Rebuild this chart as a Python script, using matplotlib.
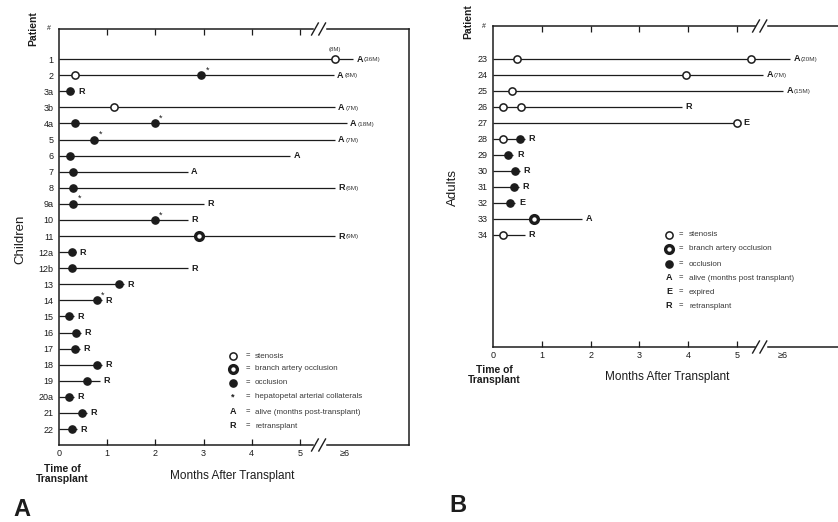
import matplotlib
matplotlib.use('Agg')
import matplotlib.pyplot as plt
from matplotlib.transforms import blended_transform_factory
from matplotlib.lines import Line2D

plt.rcParams['font.family'] = ['Liberation Sans', 'DejaVu Sans']

# ---------------- data ----------------
child_ids = ['1', '2', '3a', '3b', '4a', '5', '6', '7', '8', '9a', '10', '11',
             '12a', '12b', '13', '14', '15', '16', '17', '18', '19', '20a', '21', '22']
child_end = [6.10, 5.70, 0.32, 5.72, 5.97, 5.72, 4.79, 2.67, 5.72, 3.00, 2.67, 5.72,
             0.36, 2.67, 1.35, 0.90, 0.31, 0.45, 0.43, 0.90, 0.85, 0.31, 0.58, 0.37]
child_outcome = ['A', 'A', 'R', 'A', 'A', 'A', 'A', 'A', 'R', 'R', 'R', 'R',
                 'R', 'R', 'R', 'R', 'R', 'R', 'R', 'R', 'R', 'R', 'R', 'R']
child_months = ['(36M)', '(8M)', '', '(7M)', '(18M)', '(7M)', '', '', '(6M)', '', '', '(9M)',
                '', '', '', '', '', '', '', '', '', '', '', '']
child_ev_row = [0, 1, 1, 2, 3, 4, 4, 5, 6, 7, 8, 9, 10, 11, 12, 13, 14, 15, 16,
                17, 18, 19, 20, 21, 22, 23]
child_ev_x = [5.72, 0.33, 2.95, 0.23, 1.14, 0.33, 1.99, 0.73, 0.23, 0.30, 0.30, 0.30,
              1.99, 2.90, 0.27, 0.27, 1.24, 0.79, 0.21, 0.35, 0.33, 0.79, 0.58, 0.21,
              0.48, 0.27]
child_ev_kind = ['st', 'st', 'oc', 'oc', 'st', 'oc', 'oc', 'oc', 'oc', 'oc', 'oc', 'oc',
                 'oc', 'br', 'oc', 'oc', 'oc', 'oc', 'oc', 'oc', 'oc', 'oc', 'oc', 'oc',
                 'oc', 'oc']
child_ev_star = [0, 0, 1, 0, 0, 0, 1, 1, 0, 0, 0, 1,
                 1, 0, 0, 0, 0, 1, 0, 0, 0, 0, 0, 0, 0, 0]
child_notes = ['(8M)']
child_note_row = [0]
child_note_x = [5.72]

adult_ids = ['23', '24', '25', '26', '27', '28', '29', '30', '31', '32', '33', '34']
adult_end = [6.09, 5.53, 5.94, 3.87, 5.06, 0.66, 0.42, 0.56, 0.54, 0.46, 1.82, 0.66]
adult_outcome = ['A', 'A', 'A', 'R', 'E', 'R', 'R', 'R', 'R', 'E', 'A', 'R']
adult_months = ['(20M)', '(7M)', '(15M)', '', '', '', '', '', '', '', '', '']
adult_ev_row = [0, 0, 1, 2, 3, 3, 4, 5, 5, 6, 7, 8, 9, 10, 11]
adult_ev_x = [0.49, 5.29, 3.95, 0.39, 0.20, 0.57, 5.00, 0.20, 0.55, 0.31, 0.45, 0.43,
              0.35, 0.84, 0.20]
adult_ev_kind = ['st', 'st', 'st', 'st', 'st', 'st', 'st', 'st', 'oc', 'oc', 'oc', 'oc',
                 'oc', 'br', 'st']
adult_ev_star = [0] * 15

x_tick_vals = [0, 1, 2, 3, 4, 5]
x_tick_labels = ['0', '1', '2', '3', '4', '5']
six_label = '\u22656'

legend_A = ['stenosis', 'branch artery occlusion', 'occlusion',
            'hepatopetal arterial collaterals', 'alive (months post-transplant)',
            'retransplant']
legend_A_sym = ['st', 'br', 'oc', '*', 'A', 'R']
legend_B = ['stenosis', 'branch artery occlusion', 'occlusion',
            'alive (months post transplant)', 'expired', 'retransplant']
legend_B_sym = ['st', 'br', 'oc', 'A', 'E', 'R']

# ---------------- style ----------------
W, H = 838, 522
INK = '#1c1c1c'
GREY = '#3a3a3a'
fig = plt.figure(figsize=(W / 100, H / 100), dpi=100)
fig.patch.set_facecolor('white')


def box(l, t, r, b):
    return [l / W, 1 - b / H, (r - l) / W, (b - t) / H]


MSTYLE = {
    'st': dict(marker='o', mfc='white', mec=INK, mew=1.1, ms=5.2),
    'oc': dict(marker='o', mfc=INK, mec=INK, mew=1.0, ms=5.2),
    'br': dict(marker='o', mfc='white', mec=INK, mew=2.4, ms=5.6),
}


def panel(ax, ids, ends, outcome, months, ev_row, ev_x, ev_kind, ev_star,
          xmax, top_pad, bot_pad, brk, six_x):
    n = len(ids)
    rows = list(range(n))
    ax.hlines(rows, 0, ends, color=INK, lw=0.9, zorder=2)
    for r, x, k, s in zip(ev_row, ev_x, ev_kind, ev_star):
        ax.plot([x], [r], ls='none', zorder=3, **MSTYLE[k])
        if s:
            ax.annotate('*', xy=(x, r), xytext=(3.0, 0.5), textcoords='offset points',
                        fontsize=6.5, color=INK, ha='left', va='bottom')
    for r, e, o, m in zip(rows, ends, outcome, months):
        t = ax.annotate(o, xy=(e, r), xytext=(2.5, 0), textcoords='offset points',
                        fontsize=6.5, fontweight='bold', color=INK, ha='left',
                        va='center')
        if m:
            ax.annotate(m, xy=(1.0, 0.5), xycoords=t, xytext=(0.5, -0.5),
                        textcoords='offset points', fontsize=4.6, color=GREY,
                        ha='left', va='center')
    ax.set_xlim(0, xmax)
    ax.set_ylim(n - 1 + bot_pad, -top_pad)
    ax.set_yticks(rows)
    ax.set_yticklabels(ids, fontsize=6.5, color=INK)
    ax.tick_params(axis='y', length=0, pad=4)
    ticks = x_tick_vals + [six_x]
    ax.set_xticks(ticks)
    ax.set_xticklabels(x_tick_labels + [six_label], fontsize=6.5, color=INK)
    ax.tick_params(axis='x', direction='in', length=4, width=0.9, top=True,
                   bottom=True, pad=3, color=INK)
    mt = ax.xaxis.get_major_ticks()
    for i in (0, len(mt) - 1):
        mt[i].tick1line.set_visible(False)
        mt[i].tick2line.set_visible(False)
    for s in ('top', 'bottom'):
        ax.spines[s].set_visible(False)
    for s in ('left', 'right'):
        ax.spines[s].set_color(INK)
        ax.spines[s].set_linewidth(1.1)
    # broken top / bottom spines
    tr = blended_transform_factory(ax.transData, ax.transAxes)
    b0, b1 = brk
    for y in (0.0, 1.0):
        ax.add_line(Line2D([0, b0], [y, y], color=INK, lw=1.1, transform=tr,
                           clip_on=False))
        ax.add_line(Line2D([b1, xmax], [y, y], color=INK, lw=1.1, transform=tr,
                           clip_on=False))
    hpx = ax.get_position().height * H
    dy = 6.0 / hpx
    for y in (0.0, 1.0):
        for bx in (b0 + 0.03, b0 + 0.18):
            ax.add_line(Line2D([bx - 0.07, bx + 0.07], [y - dy, y + dy], color=INK,
                               lw=1.0, transform=tr, clip_on=False))
    ax.set_facecolor('white')


axA = fig.add_axes(box(59, 29, 409, 445))
panel(axA, child_ids, child_end, child_outcome, child_months, child_ev_row, child_ev_x,
      child_ev_kind, child_ev_star, xmax=(409 - 59) / 48.2, top_pad=1.87, bot_pad=0.99,
      brk=(5.28, 5.55), six_x=5.93)
for t, r, x in zip(child_notes, child_note_row, child_note_x):
    axA.annotate(t, xy=(x, r), xytext=(0, 5), textcoords='offset points', fontsize=4.3,
                 color=GREY, ha='center', va='bottom')

axB = fig.add_axes(box(493, 26, 850, 347))
panel(axB, adult_ids, adult_end, adult_outcome, adult_months, adult_ev_row, adult_ev_x,
      adult_ev_kind, adult_ev_star, xmax=(850 - 493) / 48.8, top_pad=2.06, bot_pad=7.0,
      brk=(5.36, 5.63), six_x=5.94)


def ftext(x, y, s, **kw):
    fig.text(x / W, 1 - y / H, s, **kw)


# axis titles and labels
ftext(33, 29, 'Patient', rotation=90, ha='center', va='center', fontsize=7.5,
      fontweight='bold', color=INK)
ftext(49, 29, '#', ha='center', va='center', fontsize=5, color=INK)
ftext(20, 239, 'Children', rotation=90, ha='center', va='center', fontsize=9.5, color=INK)
ftext(62, 474, 'Time of\nTransplant', ha='center', va='center', fontsize=7.5,
      fontweight='bold', color=INK, linespacing=1.1)
ftext(232, 476, 'Months After Transplant', ha='center', va='center', fontsize=8.5,
      color=INK)
ftext(22, 510, 'A', ha='center', va='center', fontsize=17, fontweight='bold', color=INK)

ftext(468, 22, 'Patient', rotation=90, ha='center', va='center', fontsize=7.5,
      fontweight='bold', color=INK)
ftext(484, 26, '#', ha='center', va='center', fontsize=5, color=INK)
ftext(453, 187, 'Adults', rotation=90, ha='center', va='center', fontsize=9.5, color=INK)
ftext(494, 375, 'Time of\nTransplant', ha='center', va='center', fontsize=7.5,
      fontweight='bold', color=INK, linespacing=1.1)
ftext(667, 377, 'Months After Transplant', ha='center', va='center', fontsize=8.5,
      color=INK)
ftext(458, 505, 'B', ha='center', va='center', fontsize=17, fontweight='bold', color=INK)


# legends
def legend(x_sym, x_eq, x_txt, ys, syms, texts):
    for y, s, t in zip(ys, syms, texts):
        fy = 1 - y / H
        if s in MSTYLE:
            fig.add_artist(Line2D([x_sym / W], [fy], transform=fig.transFigure,
                                  ls='none', **MSTYLE[s]))
        else:
            fig.text(x_sym / W, fy, s, ha='center', va='center', fontsize=6.5,
                     fontweight='bold', color=INK)
        fig.text(x_eq / W, fy, '=', ha='center', va='center', fontsize=5.5, color=INK)
        fig.text(x_txt / W, fy, t, ha='left', va='center', fontsize=5.8, color=GREY)


legend(233, 248, 255, [356, 369, 383, 397, 412, 426], legend_A_sym, legend_A)
legend(669, 681, 689, [235, 249, 264, 278, 292, 306], legend_B_sym, legend_B)

fig.savefig('out.png', dpi=100, facecolor='white')
